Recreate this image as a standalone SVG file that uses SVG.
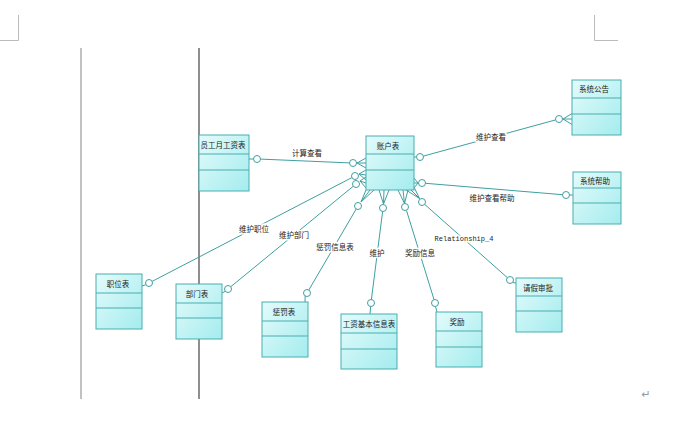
<svg xmlns="http://www.w3.org/2000/svg" width="693" height="439" viewBox="0 0 693 439">
<defs>
<linearGradient id="fill" x1="0" y1="0" x2="1" y2="1">
<stop offset="0" stop-color="#e4fbfb"/>
<stop offset="1" stop-color="#a4ecee"/>
</linearGradient>
</defs>
<style>
.box{fill:url(#fill);stroke:#48aeb0;stroke-width:1}
.sep{stroke:#48aeb0;stroke-width:1}
.t{font-family:"Noto Sans CJK SC","Liberation Sans",sans-serif;font-size:7.5px;fill:#222;text-anchor:middle}
.lbl{font-family:"Noto Sans CJK SC","Liberation Sans",sans-serif;font-size:7.5px;fill:#222;text-anchor:middle;stroke:#fff;stroke-width:3;paint-order:stroke;stroke-linejoin:round}
.rl{font-family:"Liberation Mono",monospace;font-size:7px}
.c{fill:none;stroke:#3f9fa0;stroke-width:1}
.o{fill:#fff;stroke:#3f9fa0;stroke-width:1}
.pg{stroke:#bbb;stroke-width:1;fill:none}
</style>
<rect width="693" height="439" fill="#fff"/>
<g id="page">
<path class="pg" d="M18.5 15V40.5H0M594.5 15V40.5H618"/>
<line x1="81" y1="48" x2="81" y2="399" stroke="#999" stroke-width="1.2"/>
<line x1="199" y1="48" x2="199" y2="399" stroke="#444" stroke-width="1.2"/>
<text x="646" y="398" font-family="DejaVu Sans,sans-serif" font-size="11" fill="#999" text-anchor="middle">↵</text>
</g>
<g id="connectors">
<path class="c" d="M249 159H253.5M260.5 159.1L349.5 162.9M357 163L366 158M357 163H366M357 163L366 168"/>
<path class="c" d="M142 286L145.8 284.7M152.1 281.4L351.9 177.6M359 174L366 170M359 174L366 175M359 174L366 180"/>
<path class="c" d="M222 293L225.3 291.3M230.7 286.8L353.3 186.2M360 181L366 177M360 181L366 183M360 181L366 188"/>
<path class="c" d="M305 302L305.2 296M308.8 290L356.2 209M361 202L366 190M361 202L370 190M361 202L374 190"/>
<path class="c" d="M370 314L370.6 306.5M371.4 299.5L382.6 211.5M383.5 204L379 190M383.5 204L384 190M383.5 204L389 190"/>
<path class="c" d="M437 312L435.5 306.5M434 299.5L406.5 210.5M404.5 203.5L398 190M404.5 203.5L403 190M404.5 203.5L408 190"/>
<path class="c" d="M516 283L512.5 282.5M507.4 277.7L424.6 204.3M419.5 198.5L406 190M419.5 198.5L411 190M419.5 198.5L414 187"/>
<path class="c" d="M414 157H416.5M423.4 156.1L555.6 119.9M563 119L572 113.5M563 119L572 119M563 119L572 124.5"/>
<path class="c" d="M573 195H569.5M562.5 194.7L425.5 183.3M418 183L414 178M418 183H414M418 183L414 188"/>
<g>
<circle class="o" cx="257" cy="159" r="3.5"/><circle class="o" cx="353" cy="163" r="3.5"/>
<circle class="o" cx="149" cy="283" r="3.5"/><circle class="o" cx="355" cy="176" r="3.5"/>
<circle class="o" cx="228" cy="289" r="3.5"/><circle class="o" cx="356" cy="184" r="3.5"/>
<circle class="o" cx="307" cy="293" r="3.5"/><circle class="o" cx="358" cy="206" r="3.5"/>
<circle class="o" cx="371" cy="303" r="3.5"/><circle class="o" cx="383" cy="208" r="3.5"/>
<circle class="o" cx="435" cy="303" r="3.5"/><circle class="o" cx="405" cy="207" r="3.5"/>
<circle class="o" cx="510" cy="280" r="3.5"/><circle class="o" cx="422" cy="202" r="3.5"/>
<circle class="o" cx="420" cy="157" r="3.5"/><circle class="o" cx="559" cy="119" r="3.5"/>
<circle class="o" cx="566" cy="195" r="3.5"/><circle class="o" cx="422" cy="183" r="3.5"/>
</g>
<text class="lbl" x="307" y="156">计算查看</text>
<text class="lbl" x="491" y="140">维护查看</text>
<text class="lbl" x="492" y="201">维护查看帮助</text>
<text class="lbl" x="254" y="232">维护职位</text>
<text class="lbl" x="294" y="238">维护部门</text>
<text class="lbl" x="335" y="250">惩罚信息表</text>
<text class="lbl" x="377" y="256">维护</text>
<text class="lbl" x="420" y="256">奖励信息</text>
<text class="lbl rl" x="464" y="241">Relationship_4</text>
</g>
<g id="n_yuangong"><rect class="box" x="199" y="135" width="50" height="56"/><path class="sep" d="M199 154H249M199 170H249"/><text class="t" x="223" y="148">员工月工资表</text></g>
<g id="n_zhanghu"><rect class="box" x="366" y="136" width="48" height="54"/><path class="sep" d="M366 154H414M366 170H414"/><text class="t" x="388" y="149">账户表</text></g>
<g id="n_gonggao"><rect class="box" x="572" y="80" width="49" height="55"/><path class="sep" d="M572 98H621M572 114H621"/><text class="t" x="594" y="92">系统公告</text></g>
<g id="n_bangzhu"><rect class="box" x="573" y="172" width="48" height="52"/><path class="sep" d="M573 188H621M573 203H621"/><text class="t" x="595" y="184">系统帮助</text></g>
<g id="n_zhiwei"><rect class="box" x="96" y="274" width="46" height="55"/><path class="sep" d="M96 293H142M96 308H142"/><text class="t" x="118" y="287">职位表</text></g>
<g id="n_bumen"><rect class="box" x="176" y="284" width="46" height="55"/><path class="sep" d="M176 303H222M176 318H222"/><text class="t" x="197" y="297">部门表</text></g>
<g id="n_chengfa"><rect class="box" x="262" y="302" width="46" height="55"/><path class="sep" d="M262 321H308M262 336H308"/><text class="t" x="284" y="315">惩罚表</text></g>
<g id="n_gongzi"><rect class="box" x="341" y="314" width="56" height="55"/><path class="sep" d="M341 333H397M341 349H397"/><text class="t" x="369" y="327">工资基本信息表</text></g>
<g id="n_jiangli"><rect class="box" x="436" y="312" width="46" height="55"/><path class="sep" d="M436 331H482M436 347H482"/><text class="t" x="457" y="325">奖励</text></g>
<g id="n_qingjia"><rect class="box" x="516" y="278" width="46" height="54"/><path class="sep" d="M516 296H562M516 311H562"/><text class="t" x="538" y="291">请假审批</text></g>
</svg>
